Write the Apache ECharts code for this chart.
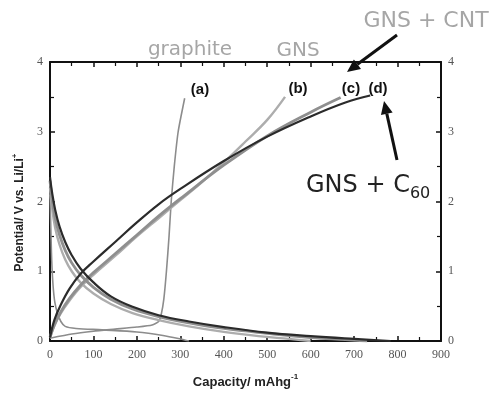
<!DOCTYPE html>
<html>
<head>
<meta charset="utf-8">
<script src="https://cdn.jsdelivr.net/npm/echarts@6/dist/echarts.min.js"></script>
<style>
  html, body { margin: 0; padding: 0; background: #fff; }
  #chart { width: 500px; height: 394px; }
</style>
</head>
<body>
<div id="chart"></div>
<script>
// Capacity (mAh/g) vs potential (V vs. Li/Li+) for the four electrodes
const xTicks = [0, 100, 200, 300, 400, 500, 600, 700, 800, 900];
const yTicks = [0, 1, 2, 3, 4];

// (a) graphite
const graphiteCharge = [[0,0.04],[50,0.1],[100,0.14],[150,0.17],[200,0.2],[235,0.23],[250,0.28],[256,0.38],[262,0.6],[268,1.0],[274,1.5],[279,2.0],[286,2.5],[295,3.0],[310,3.48]];
const graphiteDischarge = [[0,2.1],[2,1.6],[4,1.15],[7,0.8],[11,0.56],[17,0.4],[25,0.28],[35,0.21],[60,0.18],[120,0.16],[200,0.13],[260,0.08],[300,0.03],[320,0.0]];

// (b) GNS
const gnsCharge = [[0,0.05],[10,0.22],[25,0.4],[45,0.58],[70,0.77],[100,0.95],[150,1.22],[200,1.5],[250,1.76],[300,2.02],[350,2.28],[400,2.56],[450,2.86],[500,3.17],[541,3.5]];
const gnsDischarge = [[0,2.2],[5,1.9],[12,1.62],[22,1.38],[35,1.17],[50,1.0],[70,0.84],[100,0.68],[140,0.53],[190,0.4],[250,0.3],[320,0.21],[400,0.13],[480,0.07],[550,0.03],[600,0.0]];

// (c) GNS + CNT
const cntCharge = [[0,0.05],[10,0.23],[25,0.42],[45,0.61],[70,0.8],[100,0.98],[150,1.25],[200,1.52],[250,1.79],[300,2.04],[400,2.52],[500,2.94],[600,3.28],[669,3.49]];
const cntDischarge = [[0,2.3],[5,2.02],[12,1.76],[22,1.52],[35,1.3],[50,1.12],[70,0.95],[100,0.77],[140,0.6],[190,0.46],[250,0.35],[320,0.26],[400,0.18],[500,0.11],[600,0.05],[680,0.02],[730,0.0]];

// (d) GNS + C60
const c60Charge = [[0,0.05],[10,0.3],[25,0.52],[45,0.75],[70,0.96],[100,1.14],[150,1.42],[200,1.7],[250,1.96],[300,2.18],[400,2.58],[500,2.93],[600,3.22],[680,3.42],[737,3.52]];
const c60Discharge = [[0,2.35],[5,2.12],[12,1.88],[22,1.64],[35,1.42],[50,1.23],[70,1.04],[100,0.84],[140,0.64],[190,0.49],[250,0.37],[320,0.28],[400,0.2],[500,0.12],[600,0.07],[700,0.03],[784,0.0]];

const chart = echarts.init(document.getElementById('chart'), null, { renderer: 'canvas' });

const tickFont = { fontFamily: 'Liberation Serif', fontSize: 12, color: '#555' };
const axisLineStyle = { color: '#111', width: 2 };

function xAxisDef(pos, showLabels) {
  return {
    type: 'value', position: pos, min: 0, max: 900, interval: 100,
    axisLine: { show: true, onZero: false, lineStyle: axisLineStyle },
    axisTick: { show: true, inside: true, length: 5, lineStyle: { color: '#111', width: 1.5 } },
    minorTick: { show: true, splitNumber: 2, length: 4, lineStyle: { color: '#111', width: 1.2 } },
    axisLabel: Object.assign({ show: showLabels, margin: 8, customValues: xTicks }, tickFont),
    splitLine: { show: false }, minorSplitLine: { show: false }
  };
}
function yAxisDef(pos) {
  return {
    type: 'value', position: pos, min: 0, max: 4, interval: 1,
    axisLine: { show: true, onZero: false, lineStyle: axisLineStyle },
    axisTick: { show: true, inside: true, length: 5, lineStyle: { color: '#111', width: 1.5 } },
    minorTick: { show: true, splitNumber: 2, length: 4, lineStyle: { color: '#111', width: 1.2 } },
    axisLabel: Object.assign({ show: true, margin: 7, customValues: yTicks }, tickFont),
    splitLine: { show: false }, minorSplitLine: { show: false }
  };
}

function curve(name, data, color, width, smooth) {
  return {
    name, type: 'line', data, xAxisIndex: 0, yAxisIndex: 0,
    showSymbol: false, smooth: smooth,
    lineStyle: { color, width }, silent: true, z: 3
  };
}

const xMain = xAxisDef('bottom', true);
xMain.name = '{b|Capacity/ mAhg}{s|-1}';
xMain.nameLocation = 'middle';
xMain.nameGap = 32;
xMain.nameTextStyle = {
  rich: {
    b: { fontFamily: 'Liberation Sans', fontWeight: 'bold', fontSize: 13, color: '#222', lineHeight: 16, verticalAlign: 'bottom' },
    s: { fontFamily: 'Liberation Sans', fontWeight: 'bold', fontSize: 8, color: '#222', lineHeight: 16, verticalAlign: 'top' }
  }
};

const yMain = yAxisDef('left');
yMain.name = '{b|Potential/ V vs. Li/Li}{s|+}';
yMain.nameLocation = 'middle';
yMain.nameGap = 24;
yMain.nameTextStyle = {
  padding: [0, 22, 0, 0],
  rich: {
    b: { fontFamily: 'Liberation Sans', fontWeight: 'bold', fontSize: 12, color: '#222', lineHeight: 15, verticalAlign: 'bottom' },
    s: { fontFamily: 'Liberation Sans', fontWeight: 'bold', fontSize: 8, color: '#222', lineHeight: 15, verticalAlign: 'top' }
  }
};

function grayLabel(txt, x, y, size) {
  return { type: 'text', x, y, style: { text: txt, fontFamily: 'DejaVu Sans', fontSize: size, fill: '#a6a6a6', align: 'center', verticalAlign: 'middle' }, z: 10 };
}
function caseLabel(txt, x, y) {
  return { type: 'text', x, y, style: { text: txt, fontFamily: 'Liberation Sans', fontWeight: 'bold', fontSize: 15, fill: '#111', align: 'center', verticalAlign: 'middle' }, z: 10 };
}
function arrow(x1, y1, x2, y2) {
  const ang = Math.atan2(y2 - y1, x2 - x1);
  const hl = 13, hw = 6;
  const bx = x2 - hl * Math.cos(ang), by = y2 - hl * Math.sin(ang);
  const nx = -Math.sin(ang), ny = Math.cos(ang);
  return [
    { type: 'line', shape: { x1, y1, x2: bx, y2: by }, style: { stroke: '#111', lineWidth: 3 }, z: 10 },
    { type: 'polygon', shape: { points: [[x2, y2], [bx + nx * hw, by + ny * hw], [bx - nx * hw, by - ny * hw]] }, style: { fill: '#111' }, z: 10 }
  ];
}

chart.setOption({
  animation: false,
  backgroundColor: '#fff',
  grid: { left: 50, right: 59, top: 62, bottom: 46 },
  xAxis: [xMain, xAxisDef('top', false)],
  yAxis: [yMain, yAxisDef('right')],
  series: [
    curve('graphite charge', graphiteCharge, '#8c8c8c', 1.6, 0.2),
    curve('graphite discharge', graphiteDischarge, '#8c8c8c', 1.6, 0.3),
    curve('GNS charge', gnsCharge, '#adadad', 2.4, 0.4),
    curve('GNS discharge', gnsDischarge, '#adadad', 2.4, 0.4),
    curve('GNS+CNT charge', cntCharge, '#8f8f8f', 2.8, 0.4),
    curve('GNS+CNT discharge', cntDischarge, '#8f8f8f', 2.8, 0.4),
    curve('GNS+C60 charge', c60Charge, '#2b2b2b', 2.2, 0.4),
    curve('GNS+C60 discharge', c60Discharge, '#2b2b2b', 2.2, 0.4)
  ],
  graphic: [
    grayLabel('graphite', 190, 50, 20),
    grayLabel('GNS', 298, 51, 20),
    grayLabel('GNS + CNT', 426, 21, 22),
    { type: 'text', x: 306, y: 186, style: {
        text: '{a|GNS + C}{s|60}', align: 'left', verticalAlign: 'middle',
        rich: {
          a: { fontFamily: 'DejaVu Sans', fontSize: 24, fill: '#222', lineHeight: 32, verticalAlign: 'middle' },
          s: { fontFamily: 'DejaVu Sans', fontSize: 16, fill: '#222', lineHeight: 32, verticalAlign: 'bottom' }
        }
      }, z: 10 },
    caseLabel('(a)', 200, 90),
    caseLabel('(b)', 298, 89),
    caseLabel('(c)', 351, 89),
    caseLabel('(d)', 378, 89),
    ...arrow(397, 35, 347, 72),
    ...arrow(397, 160, 384, 101)
  ]
});
</script>
</body>
</html>
